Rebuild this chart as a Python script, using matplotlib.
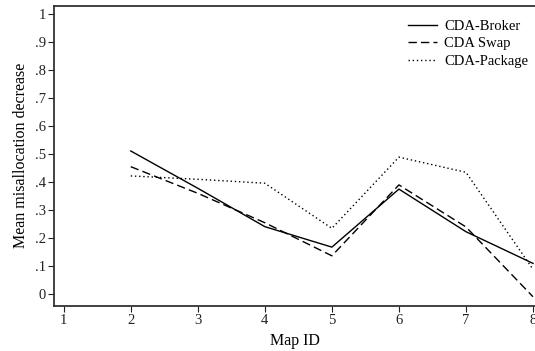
import matplotlib
matplotlib.use("Agg")
import matplotlib.pyplot as plt

map_ids = [2, 3, 4, 5, 6, 7, 8]
broker = [0.511, 0.378, 0.241, 0.168, 0.375, 0.223, 0.110]
swap = [0.455, 0.360, 0.255, 0.137, 0.390, 0.240, -0.009]
package = [0.422, 0.410, 0.396, 0.235, 0.489, 0.435, 0.089]

x_ticks = [1, 2, 3, 4, 5, 6, 7, 8]
y_ticks = [0, 0.1, 0.2, 0.3, 0.4, 0.5, 0.6, 0.7, 0.8, 0.9, 1.0]
y_labels = ["0", ".1", ".2", ".3", ".4", ".5", ".6", ".7", ".8", ".9", "1"]

plt.rcParams['font.family'] = ['Liberation Serif', 'DejaVu Serif']

fig = plt.figure(figsize=(5.35, 3.51), dpi=100)
ax = fig.add_axes([54 / 535, 1 - 305.7 / 351, (535 - 54) / 535, (305.7 - 5.8) / 351])

ax.plot(map_ids, broker, color="black", lw=1.0, linestyle="-", label="CDA-Broker")
ax.plot(map_ids, swap, color="black", lw=1.0, linestyle=(0, (6, 3)), label="CDA Swap")
ax.plot(map_ids, package, color="black", lw=1.0, linestyle=(0, (1, 2)), label="CDA-Package")

ax.set_xlim(0.855, 8.03)
ax.set_ylim(-0.041, 1.029)
ax.set_xticks(x_ticks)
ax.set_yticks(y_ticks)
ax.set_yticklabels(y_labels)
ax.tick_params(axis="both", direction="out", length=4, width=0.8, labelsize=10.5, colors="#222222")
ax.tick_params(axis="x", pad=2)
ax.tick_params(axis="y", pad=2)

for s in ["left", "bottom", "top"]:
    ax.spines[s].set_linewidth(1.3)
    ax.spines[s].set_color("#333333")
ax.spines["right"].set_visible(False)

ax.set_xlabel("Map ID", fontsize=11.5, labelpad=4)
ax.set_ylabel("Mean misallocation decrease", fontsize=11.5, labelpad=4)

leg = ax.legend(loc="upper right", frameon=False, fontsize=10.5, handlelength=2.0,
                handletextpad=0.5, labelspacing=0.3, bbox_to_anchor=(1.012, 0.995),
                borderaxespad=0.45)

fig.savefig("out.png", dpi=100)
